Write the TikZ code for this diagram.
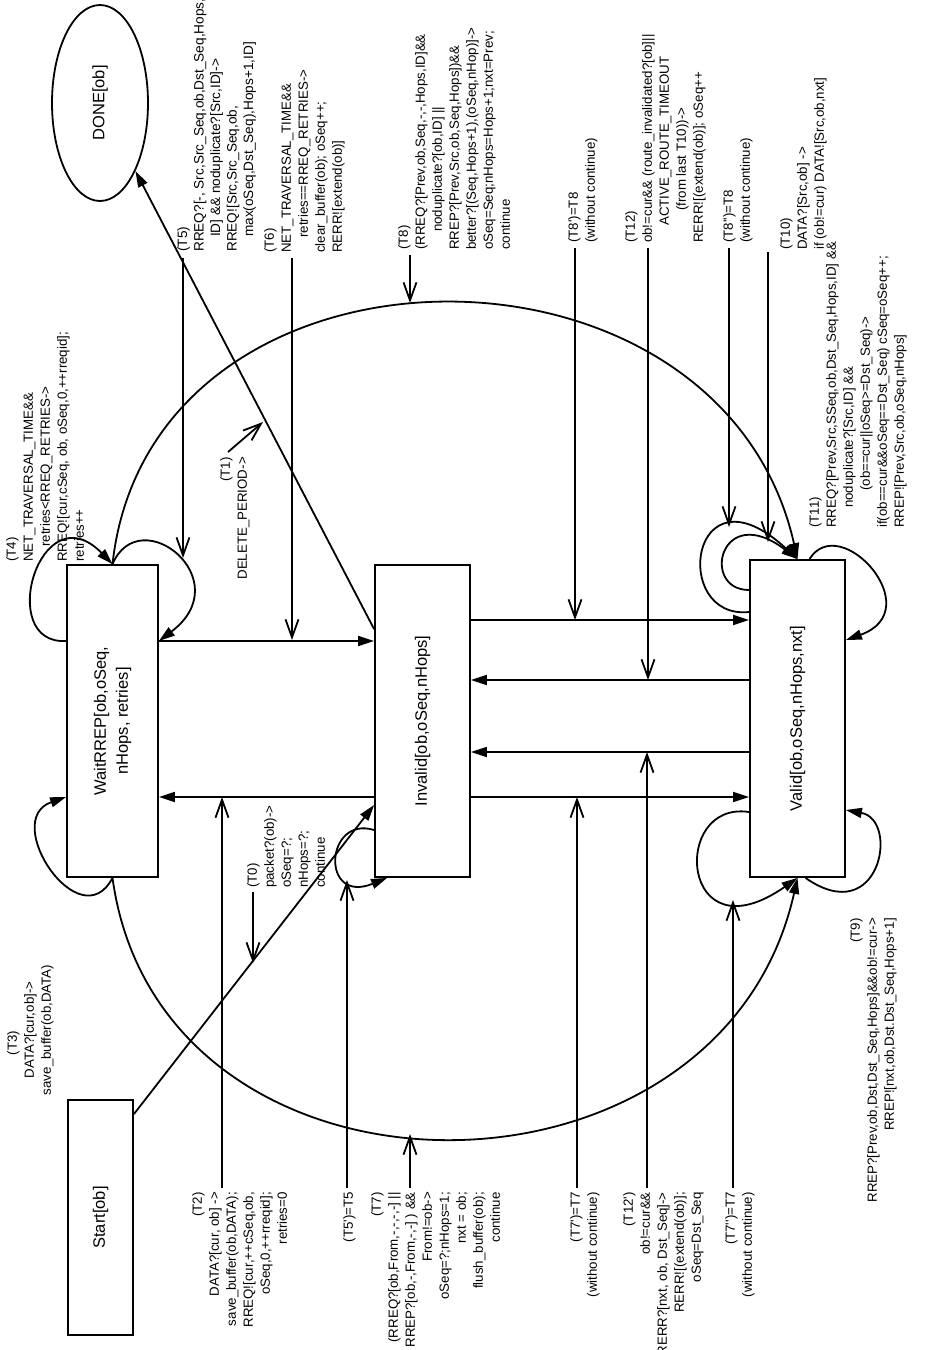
\documentclass[tikz,border=0pt]{standalone}
\usepackage{fontspec}
\usepackage{graphicx}
\newfontfamily\lsans{Liberation Sans}
\usetikzlibrary{arrows.meta,shapes.geometric}
\tikzset{
  ann/.style={rotate=90, inner sep=0pt, font=\lsans\fontsize{13.3}{17}\selectfont},
  annL/.style={ann, align=left, anchor=north west},
  annR/.style={ann, align=right, anchor=north east},
  stbox/.style={draw, line width=1.8pt, fill=white, inner sep=0pt, font=\lsans\fontsize{16.5}{22}\selectfont},
  edge/.style={line width=1.8pt, -{Triangle[length=16pt,width=10pt]}},
  tarrow/.style={line width=1.8pt, -{Straight Barb[length=18pt,width=13pt]}},
}
\begin{document}
\begin{tikzpicture}[x=1pt,y=-1pt]
\useasboundingbox (0,0) rectangle (933,1350);
% states
\node[stbox, minimum width=91pt, minimum height=312pt] (W) at (112.5,721) {\rotatebox{90}{\begin{tabular}{@{}c@{}}WaitRREP[ob,oSeq,\\nHops, retries]\end{tabular}}};
\node[stbox, minimum width=95pt, minimum height=312pt] (I) at (422.5,721) {\rotatebox{90}{Invalid[ob,oSeq,nHops]}};
\node[stbox, minimum width=95pt, minimum height=317pt] (V) at (797.5,718.5) {\rotatebox{90}{Valid[ob,oSeq,nHops,nxt]}};
\node[stbox, minimum width=65pt, minimum height=235pt] (S) at (100.5,1217.5) {\rotatebox{90}{Start[ob]}};
\node[stbox, ellipse, minimum width=96pt, minimum height=196pt] (D) at (100,103) {\rotatebox{90}{DONE[ob]}};
% rows
\coordinate (yA) at (0,641);
\coordinate (yB) at (0,797);
\coordinate (yC) at (0,620);
\coordinate (yD) at (0,680);
\coordinate (yE) at (0,752);
\coordinate (yF) at (0,830);
\coordinate (yG) at (0,612);
\coordinate (yH) at (0,590);
\coordinate (yI) at (0,640);
\coordinate (yJ) at (0,812);
\coordinate (yK) at (0,810);
\coordinate (yL) at (0,805);
% big arcs
\draw[edge] (W.north) .. controls (150,220) and (720,215) .. (V.north);
\draw[edge] (W.south) .. controls (160,1225) and (720,1225) .. (V.south);
% straight edges
\draw[edge] (W.east |- yA) -- (I.west |- yA);
\draw[edge] (I.west |- yB) -- (W.east |- yB);
\draw[edge] (I.east |- yC) -- (V.west |- yC);
\draw[edge] (V.west |- yD) -- (I.east |- yD);
\draw[edge] (V.west |- yE) -- (I.east |- yE);
\draw[edge] (I.east |- yB) -- (V.west |- yB);
\draw[edge] ([yshift=-15pt]S.north east) -- (I.west |- yL);
\draw[edge] ([yshift=-65pt]I.north west) -- (D);
% self loops
\draw[edge] (W.west |- yA) .. controls (-5,645) and (40,490) .. (W.north);
\draw[edge] (W.north) .. controls (140,500) and (240,580) .. (W.east |- yA);
\draw[edge] (W.south) .. controls (80,940) and (0,820) .. (W.west |- yB);
\draw[edge] (I.west |- yF) .. controls (325,815) and (320,905) .. ([xshift=13pt]I.south west);
\draw[edge] (V.west |- yG) .. controls (670,620) and (690,460) .. (V.north);
\draw[edge] (V.west |- yH) .. controls (700,590) and (720,500) .. (V.north);
\draw[edge] ([xshift=12pt]V.north) .. controls (840,510) and (930,610) .. (V.east |- yI);
\draw[edge] (V.west |- yJ) .. controls (670,800) and (680,960) .. (V.south);
\draw[edge] ([xshift=8pt]V.south) .. controls (880,930) and (900,820) .. (V.east |- yK);
% transition label arrows
\coordinate (a5s) at (183,258);  \coordinate (a5e) at (183,558);
\coordinate (a6s) at (292,258);  \coordinate (a6e) at (292,640);
\coordinate (a8s) at (410,255);  \coordinate (a8e) at (410,303);
\coordinate (a8ps) at (575,248); \coordinate (a8pe) at (575,620);
\coordinate (a12s) at (648,248); \coordinate (a12e) at (648,680);
\coordinate (a8pps) at (729,248);\coordinate (a8ppe) at (729,527);
\coordinate (a10s) at (768,252); \coordinate (a10e) at (768,542);
\coordinate (a0s) at (253,892);  \coordinate (a0e) at (253,963);
\coordinate (a1s) at (228,452);  \coordinate (a1e) at (263,422);
\coordinate (a2s) at (222,1188); \coordinate (a2e) at (222,797);
\coordinate (a5ps) at (347,1188);\coordinate (a5pe) at (347,880);
\coordinate (a7s) at (410,1188); \coordinate (a7e) at (410,1134);
\coordinate (a7ps) at (577,1188);\coordinate (a7pe) at (577,797);
\coordinate (a12ps) at (647,1188);\coordinate (a12pe) at (647,752);
\coordinate (a7pps) at (733,1188);\coordinate (a7ppe) at (733,900);
\foreach \s/\e in {a5s/a5e,a6s/a6e,a8s/a8e,a8ps/a8pe,a12s/a12e,a8pps/a8ppe,a10s/a10e,a0s/a0e,a1s/a1e,a2s/a2e,a5ps/a5pe,a7s/a7e,a7ps/a7pe,a12ps/a12pe,a7pps/a7ppe}
  \draw[tarrow] (\s) -- (\e);
% texts (top, left aligned)
\node[annL] (t4) at (6,562) {(T4)\\NET\_TRAVERSAL\_TIME\&\&\\\hspace*{15pt}retries<RREQ\_RETRIES->\\RREQ![cur,cSeq, ob, oSeq,0,++rreqid];\\retries++};
\node[annL, font=\lsans\fontsize{13.6}{16.5}\selectfont] (t5) at (177,252) {(T5)\\RREQ?[-, Src,Src\_Seq,ob,Dst\_Seq,Hops,\\\hspace*{15pt}ID] \&\& noduplicate?[Src,ID]->\\RREQ![Src,Src\_Seq,ob,\\\hspace*{15pt}max(oSeq,Dst\_Seq),Hops+1,ID]};
\node[annL] (t6) at (264,253) {(T6)\\NET\_TRAVERSAL\_TIME\&\&\\\hspace*{15pt}retries==RREQ\_RETRIES->\\clear\_buffer(ob); oSeq++;\\RERR![extend(ob)]};
\node[annL] (t8) at (398,250) {(T8)\\(RREQ?[Prev,ob,Seq,-,-,Hops,ID]\&\&\\\hspace*{18pt}noduplicate?[ob,ID] ||\\RREP?[Prev,Src,ob,Seq,Hops])\&\&\\better?[(Seq,Hops+1),(oSeq,nHop)]->\\oSeq=Seq;nHops=Hops+1;nxt=Prev;\\continue};
\node[annL] (t8p) at (568,243) {(T8')=T8\\(without continue)};
\node[annL] (t12) at (625,243) {(T12)\\ob!=cur\&\& (route\_invalidated?[ob]||\\\hspace*{17pt}ACTIVE\_ROUTE\_TIMEOUT\\\hspace*{32pt}(from last T10))->\\RERR![(extend(ob)]; oSeq++};
\node[annL] (t8pp) at (723,243) {(T8'')=T8\\(without continue)};
\node[annL] (t10) at (780,250) {(T10)\\DATA?[Src,ob] ->\\if (ob!=cur) DATA![Src,ob,nxt]};
\node[annL] (t11) at (809,528) {(T11)\\RREQ?[Prev,Src,SSeq,ob,Dst\_Seq,Hops,ID] \&\&\\\hspace*{20pt}noduplicate?[Src,ID] \&\&\\\hspace*{37pt}(ob==cur||oSeq>=Dst\_Seq)->\\if(ob==cur\&\&oSeq==Dst\_Seq) cSeq=oSeq++;\\RREP![Prev,Src,ob,oSeq,nHops]};
\node[annL] (t0) at (247,888) {(T0)\\packet?(ob)->\\oSeq=?;\\nHops=?;\\continue};
% texts (bottom, right aligned)
\node[annR] (t1) at (220,457) {(T1)\\DELETE\_PERIOD->};
\node[annR] (t2) at (192,1192) {(T2)\\DATA?[cur, ob] ->\\save\_buffer(ob,DATA);\\RREQ![cur,++cSeq,ob,\\oSeq,0,++rreqid];\\retries=0};
\node[annR] (t5p) at (343,1192) {(T5')=T5};
\node[annR] (t7) at (371,1192) {(T7)\\(RREQ?[ob,From,-,-,-,-] ||\\RREP?[ob,-,From,-,-] ) \&\&\\From!=ob->\\oSeq=?;nHops=1;\\nxt = ob;\\flush\_buffer(ob);\\continue};
\node[annR] (t7p) at (570,1192) {(T7')=T7\\(without continue)};
\node[annR] (t12p) at (623,1192) {(T12')\\ob!=cur\&\&\\RERR?[nxt, ob, Dst\_Seq]->\\RERR![(extend(ob)];\\oSeq=Dst\_Seq};
\node[annR] (t7pp) at (725,1192) {(T7'')=T7\\(without continue)};
\node[annR] (t9) at (850,918) {(T9)\\RREP?[Prev,ob,Dst,Dst\_Seq,Hops]\&\&ob!=cur->\\RREP![nxt,ob,Dst.Dst\_Seq,Hops+1]};
\node[ann, align=center, anchor=north] (t3) at (7,1030) {(T3)\hspace*{26pt}\\DATA?[cur,ob]->\\save\_buffer(ob,DATA)};
\end{tikzpicture}
\end{document}
